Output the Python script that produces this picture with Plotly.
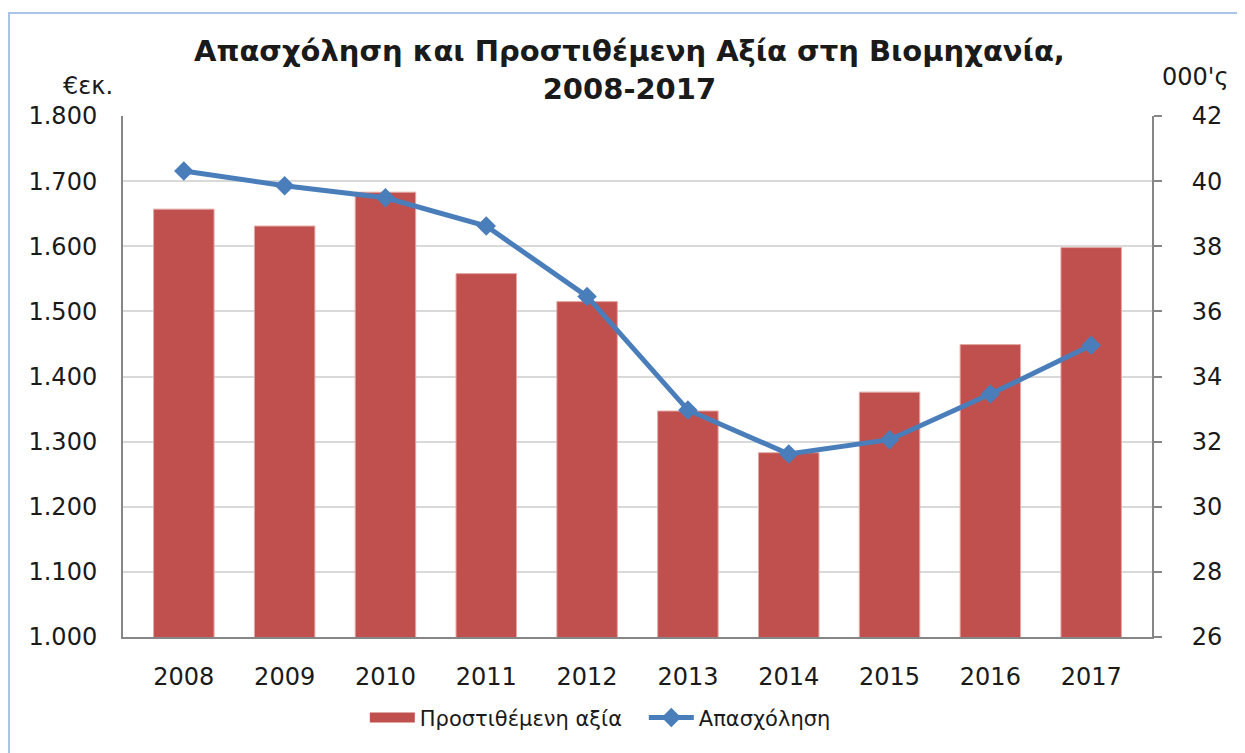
import plotly.graph_objects as go

years = ["2008", "2009", "2010", "2011", "2012", "2013", "2014", "2015", "2016", "2017"]
value_added = [1.657, 1.631, 1.683, 1.558, 1.515, 1.347, 1.283, 1.376, 1.449, 1.598]
employment = [40.31, 39.86, 39.49, 38.62, 36.46, 32.97, 31.62, 32.06, 33.46, 34.96]
left_ticks = [1.0, 1.1, 1.2, 1.3, 1.4, 1.5, 1.6, 1.7, 1.8]
left_labels = ["1.000", "1.100", "1.200", "1.300", "1.400", "1.500", "1.600", "1.700", "1.800"]
right_ticks = [26, 28, 30, 32, 34, 36, 38, 40, 42]

FONT = "DejaVu Sans"
TXT = "#1a1a1a"
BAR_COLOR = "#C0504D"
LINE_COLOR = "#4A7EBB"

fig = go.Figure()
fig.add_trace(go.Bar(
    x=years, y=value_added, name="Προστιθέμενη αξία",
    marker=dict(color=BAR_COLOR, line=dict(color="#E3A8A6", width=1)),
    yaxis="y", showlegend=False,
))
# legend-only entry drawn as a wide block, like the reference's legend key
fig.add_trace(go.Scatter(
    x=[None], y=[None], name="Προστιθέμενη αξία", mode="lines",
    line=dict(color=BAR_COLOR, width=18), yaxis="y", hoverinfo="skip",
))
fig.add_trace(go.Scatter(
    x=years, y=employment, name="Απασχόληση", mode="lines+markers",
    line=dict(color=LINE_COLOR, width=5),
    marker=dict(symbol="diamond", size=15, color=LINE_COLOR),
    yaxis="y2",
))

# page has an 8px body margin; figure sized so the plot area lands where the reference has it
fig.update_layout(
    width=1237, height=745,
    margin=dict(l=115, r=93, t=108, b=116),
    paper_bgcolor="white", plot_bgcolor="white",
    font=dict(family=FONT, size=24, color=TXT),
    bargap=0.4,
    showlegend=True,
    legend=dict(orientation="h", x=0.235, xanchor="left", y=-0.155, yanchor="middle",
                font=dict(size=21, family=FONT), traceorder="normal", itemwidth=45,
                entrywidth=219),
    xaxis=dict(showgrid=False, showline=True, linecolor="#868686", linewidth=2,
               ticks="", tickfont=dict(size=24), ticklabelstandoff=17),
    yaxis=dict(range=[1.0, 1.8], tickvals=left_ticks, ticktext=left_labels,
               showgrid=True, gridcolor="#D9D9D9", gridwidth=2,
               showline=True, linecolor="#868686", linewidth=2,
               ticks="", tickfont=dict(size=24), zeroline=False, ticklabelstandoff=19),
    yaxis2=dict(range=[26, 42], tickvals=right_ticks, overlaying="y", side="right",
                showgrid=False, showline=True, linecolor="#868686", linewidth=2,
                ticks="outside", ticklen=8, tickcolor="#868686", tickwidth=2,
                tickfont=dict(size=24), zeroline=False, ticklabelstandoff=25),
    annotations=[
        dict(text="<b>Απασχόληση και Προστιθέμενη Αξία στη Βιομηχανία,<br>2008-2017</b>",
             xref="paper", yref="paper", x=0.4922, y=1.088, yanchor="middle", xanchor="center",
             showarrow=False, font=dict(size=29, family=FONT, color=TXT)),
        dict(text="€εκ.", xref="paper", yref="paper", x=-0.034, y=1.0576, xanchor="center",
             yanchor="middle", showarrow=False, font=dict(size=24, family=FONT)),
        dict(text="000'ς", xref="paper", yref="paper", x=1.0418, y=1.0749, xanchor="center",
             yanchor="middle", showarrow=False, font=dict(size=24, family=FONT)),
    ],
    shapes=[
        dict(type="rect", xref="paper", yref="paper", x0=-0.1108, y0=-0.5, x1=1.2, y1=1.1977,
             line=dict(color="#A9C4E8", width=2), fillcolor="rgba(0,0,0,0)", layer="below"),
    ],
)

fig.write_html("out.html")
